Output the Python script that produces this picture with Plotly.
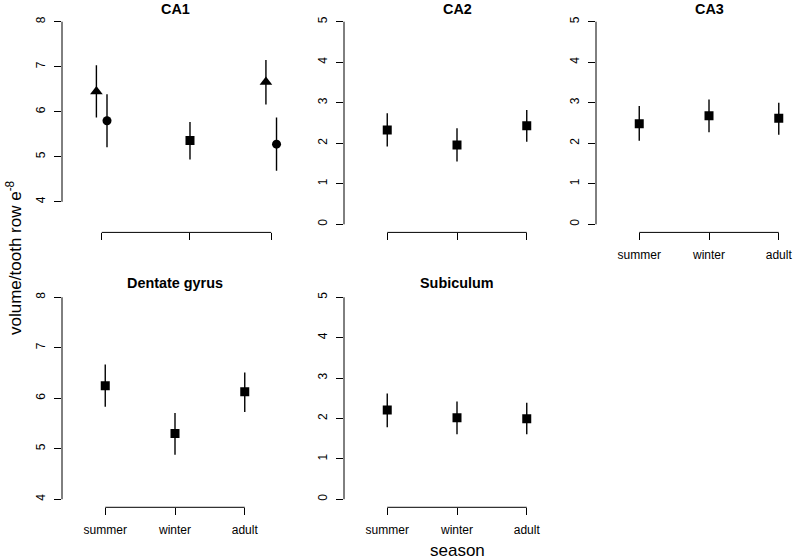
import plotly.graph_objects as go

W, H = 793, 559

seasons = ["summer", "winter", "adult"]

# CA1: three groups (triangle / circle at summer & adult, square at winter)
ca1_tri_mean = [6.45, None, 6.66]
ca1_tri_lo = [5.87, None, 6.16]
ca1_tri_hi = [7.03, None, 7.15]
ca1_circ_mean = [5.80, None, 5.28]
ca1_circ_lo = [5.21, None, 4.69]
ca1_circ_hi = [6.39, None, 5.87]
ca1_sq_mean = [None, 5.36, None]
ca1_sq_lo = [None, 4.94, None]
ca1_sq_hi = [None, 5.77, None]

ca2_mean = [2.33, 1.96, 2.43]
ca2_lo = [1.92, 1.55, 2.04]
ca2_hi = [2.74, 2.37, 2.82]

ca3_mean = [2.48, 2.68, 2.62]
ca3_lo = [2.06, 2.27, 2.21]
ca3_hi = [2.92, 3.08, 3.00]

dg_mean = [6.25, 5.30, 6.13]
dg_lo = [5.83, 4.88, 5.73]
dg_hi = [6.67, 5.71, 6.51]

sub_mean = [2.21, 2.02, 1.99]
sub_lo = [1.78, 1.61, 1.61]
sub_hi = [2.62, 2.42, 2.39]

titles = ["CA1", "CA2", "CA3", "Dentate gyrus", "Subiculum"]
ylab = "volume/tooth row e<sup>-8</sup>"
xlab = "season"

FONT = "Liberation Sans, Arial, Helvetica, sans-serif"

# layout geometry (pixels)
def px_dom_x(a, b):
    return [a / W, min(b / W, 1.0)]

def px_dom_y(top, bottom):
    return [1 - bottom / H, 1 - top / H]

row_y = [(13.6, 232.4), (289.2, 507.3)]
col_x = [(62, 288), (344, 570), (596, 793)]

std_pos = [1, 2, 3]
ca1_tick_x = [1.0, 2.0, 2.92]
ca1_off = 0.06

fig = go.Figure()

def err_trace(xs, m, lo, hi, symbol, size, ax):
    xx, mm, ep, em = [], [], [], []
    for x, a, l, h in zip(xs, m, lo, hi):
        if a is None:
            continue
        xx.append(x); mm.append(a); ep.append(h - a); em.append(a - l)
    return go.Scatter(
        x=xx, y=mm, mode="markers", xaxis="x" + ax, yaxis="y" + ax,
        marker=dict(symbol=symbol, size=size, color="black", line=dict(width=0)),
        error_y=dict(type="data", symmetric=False, array=ep, arrayminus=em,
                     width=0, thickness=1.4, color="black"),
        showlegend=False, hoverinfo="skip")

# CA1
fig.add_trace(err_trace([ca1_tick_x[0] - ca1_off, None, ca1_tick_x[2] - ca1_off],
                        ca1_tri_mean, ca1_tri_lo, ca1_tri_hi, "triangle-up", 11, ""))
fig.add_trace(err_trace([ca1_tick_x[0] + ca1_off, None, ca1_tick_x[2] + ca1_off],
                        ca1_circ_mean, ca1_circ_lo, ca1_circ_hi, "circle", 9, ""))
fig.add_trace(err_trace(ca1_tick_x, ca1_sq_mean, ca1_sq_lo, ca1_sq_hi, "square", 9, ""))
# others
fig.add_trace(err_trace(std_pos, ca2_mean, ca2_lo, ca2_hi, "square", 9, "2"))
fig.add_trace(err_trace(std_pos, ca3_mean, ca3_lo, ca3_hi, "square", 9, "3"))
fig.add_trace(err_trace(std_pos, dg_mean, dg_lo, dg_hi, "square", 9, "4"))
fig.add_trace(err_trace(std_pos, sub_mean, sub_lo, sub_hi, "square", 9, "5"))

panels = [
    # (suffix, row, col, xrange, yrange, yticks, xticks, show xlabels)
    ("", 0, 0, [0.5504, 3.110], [3.32, 8.18], [4, 5, 6, 7, 8], ca1_tick_x, False),
    ("2", 0, 1, [0.38, 3.62], [-0.2, 5.2], [0, 1, 2, 3, 4, 5], std_pos, False),
    ("3", 0, 2, [0.38, 3.204], [-0.2, 5.2], [0, 1, 2, 3, 4, 5], std_pos, True),
    ("4", 1, 0, [0.38, 3.62], [3.84, 8.16], [4, 5, 6, 7, 8], std_pos, True),
    ("5", 1, 1, [0.38, 3.62], [-0.2, 5.2], [0, 1, 2, 3, 4, 5], std_pos, True),
]

layout = dict(width=W, height=H, margin=dict(l=0, r=0, t=0, b=0),
              paper_bgcolor="white", plot_bgcolor="white",
              font=dict(family=FONT, size=12, color="black"),
              showlegend=False)
shapes = []
annotations = []
title_x_px = [175, 457, 709]
for (sfx, r, c, xr, yr, yt, xt, showx), title in zip(panels, titles):
    xname = "xaxis" + sfx
    yname = "yaxis" + sfx
    layout[xname] = dict(domain=px_dom_x(*col_x[c]), range=xr, anchor="y" + sfx,
                         showgrid=False, zeroline=False, showline=False,
                         tickmode="array", tickvals=xt, ticktext=seasons,
                         showticklabels=showx, ticks="outside", ticklen=7,
                         tickwidth=1, tickcolor="black",
                         tickfont=dict(size=12, color="black", family=FONT),
                         ticklabelstandoff=4)
    layout[yname] = dict(domain=px_dom_y(*row_y[r]), range=yr, anchor="x" + sfx,
                         showgrid=False, zeroline=False, showline=False,
                         tickmode="array", tickvals=yt, ticktext=[str(v) for v in yt],
                         ticks="outside", ticklen=7, tickwidth=1, tickcolor="black",
                         tickangle=-90,
                         tickfont=dict(size=12, color="black", family=FONT),
                         ticklabelstandoff=4)
    xref = "x" + sfx
    yref = "y" + sfx
    shapes.append(dict(type="line", xref=xref + " domain", yref=yref,
                       x0=0, x1=0, y0=yt[0], y1=yt[-1],
                       line=dict(color="black", width=1)))
    shapes.append(dict(type="line", xref=xref, yref=yref + " domain",
                       x0=xt[0], x1=xt[-1], y0=0, y1=0,
                       line=dict(color="black", width=1)))
    ty = 8.5 if r == 0 else 282.7
    annotations.append(dict(text="<b>" + title + "</b>", xref="paper", yref="paper",
                            x=title_x_px[c] / W, y=1 - ty / H, showarrow=False,
                            xanchor="center", yanchor="middle",
                            font=dict(size=14.4, color="black", family=FONT)))

annotations.append(dict(text=xlab, xref="paper", yref="paper", x=457 / W, y=1 - 550.5 / H,
                        showarrow=False, xanchor="center", yanchor="middle",
                        font=dict(size=17, color="black", family=FONT)))
annotations.append(dict(text=ylab, xref="paper", yref="paper", x=14 / W, y=1 - 258 / H,
                        showarrow=False, xanchor="center", yanchor="middle", textangle=-90,
                        font=dict(size=17, color="black", family=FONT)))

layout["shapes"] = shapes
layout["annotations"] = annotations
fig.update_layout(**layout)
fig.write_html("out.html", config={"displayModeBar": False},
               post_script="document.body.style.margin='0px';document.body.style.overflow='hidden';")
